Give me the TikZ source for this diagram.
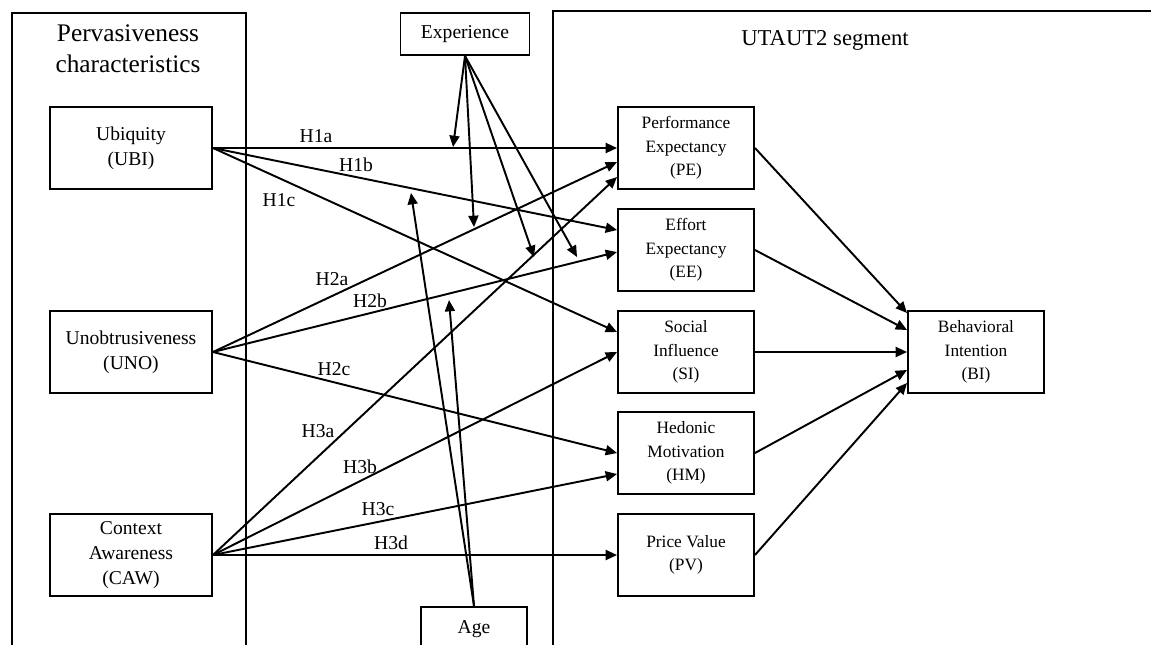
\documentclass[tikz,border=0pt]{standalone}
\usepackage{fontspec}
\setmainfont{Liberation Serif}
\usetikzlibrary{arrows.meta,calc}

\tikzset{every picture/.style={line width=1.45pt}}
\tikzset{
  lbox/.style={draw, minimum width=121.5pt, minimum height=61.5pt, align=center, inner sep=0.75pt, font=\fontsize{14.7}{19}\selectfont},
  rbox/.style={draw, minimum width=102pt, minimum height=61.5pt, align=center, inner sep=0.75pt, font=\fontsize{13}{17.6}\selectfont},
  modbox/.style={draw, align=center, inner sep=0.75pt, font=\fontsize{14.7}{18}\selectfont},
  hyp/.style={inner sep=0.75pt, font=\fontsize{14.7}{18}\selectfont},
  title/.style={align=center, inner sep=0.75pt, font=\fontsize{19}{23}\selectfont},
  arr/.style={-{Triangle[length=8.5pt,width=7.5pt]}},
}

\begin{document}
\begin{tikzpicture}[x=0.75pt,y=0.75pt,yscale=-1,xscale=1]
\useasboundingbox (0,0) rectangle (1151,644);

%Shape: Rectangle (left segment)
\draw (12,13) rectangle (246,670);
%Shape: Rectangle (right segment)
\draw (553,11) rectangle (1180,670);

% Text Node
\node[title] (lefttitle) at (128,49) {Pervasiveness\\characteristics};
% Text Node
\node[title, font=\fontsize{17}{21}\selectfont] (righttitle) at (825,40) {UTAUT2 segment};

%Shape: Rectangle
\node[lbox] (ubi) at (131,148) {Ubiquity\\(UBI)};
%Shape: Rectangle
\node[lbox] (uno) at (131,352) {Unobtrusiveness\\(UNO)};
%Shape: Rectangle
\node[lbox] (caw) at (131,555) {Context\\Awareness\\(CAW)};

%Shape: Rectangle
\node[rbox] (pe) at (686,148) {Performance\\Expectancy\\(PE)};
%Shape: Rectangle
\node[rbox] (ee) at (686,250) {Effort\\Expectancy\\(EE)};
%Shape: Rectangle
\node[rbox] (si) at (686,352) {Social\\Influence\\(SI)};
%Shape: Rectangle
\node[rbox] (hm) at (686,453) {Hedonic\\Motivation\\(HM)};
%Shape: Rectangle
\node[rbox] (pv) at (686,555) {Price Value\\(PV)};
%Shape: Rectangle
\node[rbox] (bi) at (976,352) {Behavioral\\Intention\\(BI)};

%Shape: Rectangle
\node[modbox, minimum width=96.75pt, minimum height=31.5pt] (exp) at (465,34) {Experience};
%Shape: Rectangle
\node[modbox, minimum width=79.5pt, minimum height=33pt] (age) at (474,629) {Age};

% moderator targets
\coordinate (e1) at (453,147);
\coordinate (e2) at (474,227);
\coordinate (e3) at (534,257);
\coordinate (e4) at (577,257);
\coordinate (a1) at (411,193);
\coordinate (a2) at (449,300);

%Straight Lines
\draw[arr] (ubi.east) -- (pe.west);
\draw[arr] (ubi.east) -- ($(ee.west)+(0,-20)$);
\draw[arr] (ubi.east) -- ($(si.west)+(0,-20)$);
%Straight Lines
\draw[arr] (uno.east) -- ($(pe.west)+(0,14)$);
\draw[arr] (uno.east) -- ($(ee.west)+(0,2)$);
\draw[arr] (uno.east) -- (hm.west);
%Straight Lines
\draw[arr] (caw.east) -- ($(pe.west)+(0,29)$);
\draw[arr] (caw.east) -- (si.west);
\draw[arr] (caw.east) -- ($(hm.west)+(0,21)$);
\draw[arr] (caw.east) -- (pv.west);
%Straight Lines
\draw[arr] (pe.east) -- ($(bi.west)+(0,-39)$);
\draw[arr] (ee.east) -- ($(bi.west)+(0,-22)$);
\draw[arr] (si.east) -- (bi.west);
\draw[arr] (hm.east) -- ($(bi.west)+(0,18)$);
\draw[arr] (pv.east) -- ($(bi.west)+(0,31)$);
%Straight Lines
\foreach \t in {e1,e2,e3,e4}
  \draw[arr] (exp.south) -- (\t);
\foreach \t in {a1,a2}
  \draw[arr] (age.north) -- (\t);

% Text Node
\node[hyp] (h1a) at (316,136) {H1a};
\node[hyp] (h1b) at (356,165) {H1b};
\node[hyp] (h1c) at (279,200) {H1c};
% Text Node
\node[hyp] (h2a) at (332,279) {H2a};
\node[hyp] (h2b) at (370,301) {H2b};
\node[hyp] (h2c) at (334,369) {H2c};
% Text Node
\node[hyp] (h3a) at (318,431) {H3a};
\node[hyp] (h3b) at (360,467) {H3b};
\node[hyp] (h3c) at (378,509) {H3c};
\node[hyp] (h3d) at (391,543) {H3d};

\end{tikzpicture}
\end{document}
